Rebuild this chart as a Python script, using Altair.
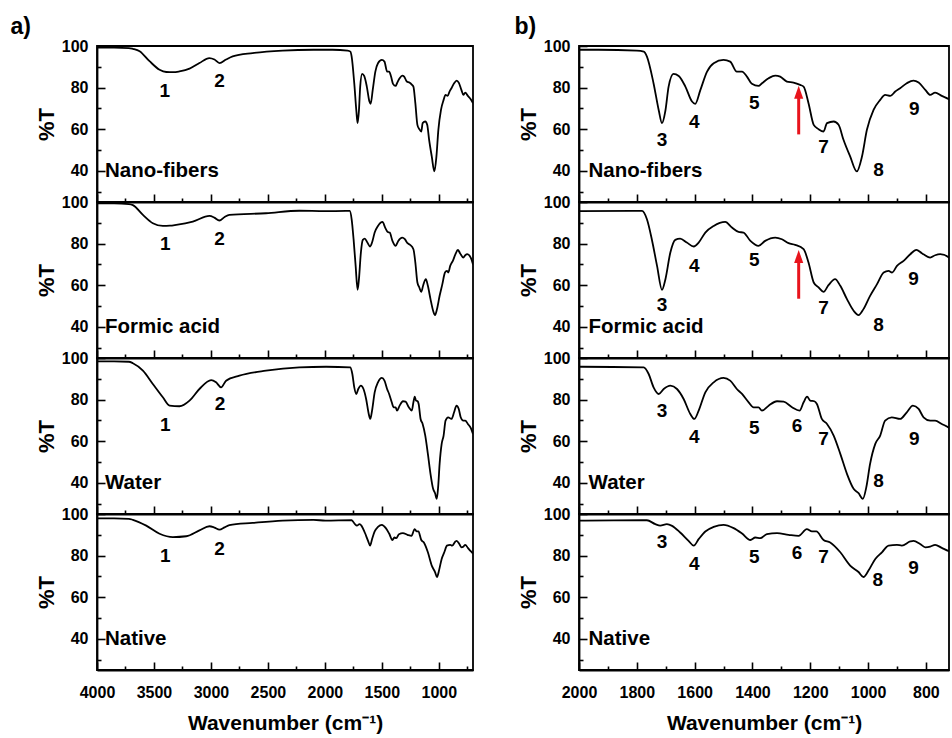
import altair as alt
import pandas as pd

FONT = "Liberation Sans"

# ---- FTIR spectra: wavenumber (cm-1) and transmittance (%T) ----
nano_wn = [4000, 3850, 3720, 3685, 3626, 3539, 3451, 3392, 3330, 3276, 3188, 3101, 3014, 2969, 2925,
           2867, 2809, 2634, 2371, 2100, 1933, 1800, 1776, 1765, 1742, 1724, 1713, 1701, 1690, 1673,
           1655, 1632, 1609, 1598, 1580, 1557, 1534, 1500, 1477, 1454, 1436, 1419, 1402, 1379, 1367,
           1344, 1321, 1304, 1281, 1258, 1235, 1223, 1206, 1188, 1171, 1154, 1142, 1119, 1102, 1085,
           1062, 1039, 1021, 1004, 981, 958, 941, 923, 906, 889, 866, 843, 825, 802, 785, 768, 745,
           720, 700]
nano_t = [99.2, 99.2, 99.0, 98.6, 97.5, 92.7, 88.6, 87.5, 87.4, 87.8, 89.1, 91.8, 94.2, 93.5, 91.8,
          93.5, 95.0, 96.6, 97.8, 98.2, 98.2, 97.8, 97.3, 94.9, 82.0, 69.0, 62.9, 69.0, 80.5, 86.6,
          85.6, 80.5, 73.3, 72.2, 78.9, 87.7, 91.7, 93.3, 92.5, 87.7, 87.7, 85.3, 81.8, 80.8, 82.1,
          84.5, 85.8, 85.3, 82.9, 82.4, 81.3, 80.5, 72.5, 62.1, 60.0, 58.9, 62.9, 63.7, 62.1, 54.9,
          46.9, 39.7, 46.9, 59.7, 69.3, 74.1, 76.5, 76.0, 78.1, 79.7, 82.1, 83.4, 82.4, 78.9, 76.5,
          77.6, 76.0, 74.4, 72.5]

formic_wn = [4000, 3850, 3720, 3685, 3597, 3510, 3422, 3360, 3305, 3159, 3013, 2970, 2926, 2880, 2838,
             2517, 2225, 2000, 1816, 1782, 1765, 1748, 1730, 1713, 1701, 1684, 1667, 1650, 1627, 1603,
             1586, 1563, 1534, 1494, 1471, 1448, 1431, 1407, 1379, 1356, 1321, 1298, 1275, 1252, 1223,
             1206, 1188, 1171, 1154, 1137, 1114, 1096, 1073, 1050, 1033, 1016, 993, 969, 946, 929, 917,
             900, 877, 854, 833, 814, 785, 768, 750, 720, 700]
formic_t = [99.3, 99.3, 99.0, 98.5, 93.8, 89.8, 88.5, 88.6, 89.0, 90.6, 93.3, 92.5, 91.1, 92.8, 93.8,
            94.6, 95.8, 95.6, 95.7, 95.7, 91.7, 82.0, 69.3, 57.8, 62.9, 75.7, 81.8, 82.4, 80.5, 78.6,
            80.5, 85.3, 88.5, 90.4, 87.7, 85.6, 85.3, 81.3, 78.9, 81.3, 82.9, 82.1, 80.2, 79.4, 77.3,
            70.9, 61.3, 58.9, 56.8, 60.0, 62.9, 59.7, 53.3, 47.7, 45.6, 48.5, 54.9, 60.5, 66.1, 66.9,
            66.1, 69.3, 71.7, 74.9, 77.0, 75.4, 73.3, 74.4, 74.9, 73.3, 70.0]

water_wn = [4000, 3850, 3720, 3685, 3597, 3510, 3422, 3363, 3276, 3188, 3101, 2998, 2955, 2911, 2867,
            2750, 2517, 2225, 1990, 1776, 1759, 1742, 1724, 1707, 1684, 1661, 1638, 1615, 1601, 1586,
            1563, 1534, 1500, 1477, 1454, 1436, 1413, 1396, 1379, 1367, 1344, 1315, 1292, 1263, 1237,
            1223, 1211, 1200, 1186, 1177, 1160, 1142, 1119, 1096, 1073, 1050, 1033, 1018, 1006, 993,
            975, 958, 941, 918, 889, 866, 845, 825, 808, 785, 768, 745, 720, 700]
water_t = [98.4, 98.4, 98.2, 97.5, 93.9, 87.5, 81.1, 77.1, 76.8, 79.5, 85.1, 89.4, 88.3, 85.9, 89.1,
           91.5, 93.9, 95.5, 95.8, 95.5, 92.3, 85.9, 82.7, 85.1, 86.7, 85.1, 80.3, 73.1, 70.7, 74.7,
           83.5, 88.3, 90.4, 89.1, 85.1, 82.7, 78.7, 76.3, 76.3, 74.7, 77.1, 79.2, 79.0, 76.3, 74.7,
           78.7, 81.4, 79.5, 79.2, 77.9, 70.7, 68.3, 62.7, 53.9, 44.3, 37.1, 35.0, 32.3, 37.9, 49.1,
           58.7, 62.7, 69.9, 71.5, 70.7, 73.9, 77.1, 75.5, 71.5, 69.9, 69.9, 68.3, 66.4, 63.5]

native_wn = [4000, 3850, 3720, 3685, 3568, 3451, 3334, 3217, 3101, 3013, 2970, 2925, 2880, 2838, 2634,
             2371, 2100, 1995, 1765, 1736, 1719, 1696, 1678, 1650, 1621, 1603, 1586, 1563, 1534, 1500,
             1465, 1436, 1407, 1390, 1373, 1350, 1315, 1275, 1240, 1212, 1194, 1179, 1154, 1131, 1096,
             1062, 1033, 1016, 998, 975, 952, 929, 900, 883, 854, 843, 820, 802, 785, 768, 745, 720, 700]
native_t = [97.9, 97.9, 97.7, 97.2, 94.4, 90.5, 88.9, 89.3, 92.1, 94.1, 93.5, 92.5, 93.6, 94.7, 95.7,
            96.8, 97.2, 96.8, 97.0, 95.1, 94.4, 95.1, 94.3, 91.1, 87.1, 84.8, 87.9, 91.6, 93.8, 94.8,
            93.2, 90.6, 87.5, 88.7, 88.4, 90.3, 90.8, 90.0, 89.5, 92.7, 91.6, 91.6, 87.5, 86.3, 81.6,
            75.2, 72.1, 69.7, 72.9, 78.4, 81.6, 84.8, 85.2, 84.8, 86.8, 87.1, 85.6, 84.0, 84.3, 85.2,
            83.7, 82.1, 81.0]

samples = ["Nano-fibers", "Formic acid", "Water", "Native"]
spectra = {
    "Nano-fibers": (nano_wn, nano_t),
    "Formic acid": (formic_wn, formic_t),
    "Water": (water_wn, water_t),
    "Native": (native_wn, native_t),
}

# ---- band numbers: label, wavenumber, %T of the label ----
bands_full = {
    "Nano-fibers": (["1", "2"], [3406, 2925], [78.3, 83.0]),
    "Formic acid": (["1", "2"], [3401, 2925], [80.0, 82.1]),
    "Water": (["1", "2"], [3401, 2920], [68.0, 77.9]),
    "Native": (["1", "2"], [3401, 2925], [79.9, 83.3]),
}
bands_zoom = {
    "Nano-fibers": (["3", "4", "5", "7", "8", "9"],
                    [1713, 1601, 1394, 1154, 964, 840], [54.9, 63.7, 72.5, 51.4, 40.5, 69.6]),
    "Formic acid": (["3", "4", "5", "7", "8", "9"],
                    [1713, 1601, 1394, 1154, 964, 843], [50.4, 69.3, 72.2, 48.8, 40.8, 62.9]),
    "Water": (["3", "4", "5", "6", "7", "8", "9"],
              [1713, 1601, 1394, 1246, 1154, 964, 840], [74.4, 61.9, 66.4, 67.5, 61.1, 41.1, 61.1]),
    "Native": (["3", "4", "5", "6", "7", "8", "9"],
               [1713, 1601, 1394, 1246, 1154, 966, 843], [86.3, 76.0, 79.2, 81.1, 79.2, 68.1, 74.1]),
}

# red arrows (wavenumber, tail %T, head %T) in the expanded view
arrows = {
    "Nano-fibers": (1240, 57.5, 77.8),
    "Formic acid": (1240, 53.5, 73.8),
}

Y_DOMAIN = [25, 100]
Y_TICKS = [30, 40, 50, 60, 70, 80, 90, 100]


def axis_common():
    return dict(
        labelFont=FONT, labelFontSize=16, labelFontWeight="bold", labelColor="black",
        labelFlush=False,
        titleFont=FONT, titleColor="black", titleFontWeight="bold",
        domainColor="black", domainWidth=1.8, tickColor="black", tickWidth=1.6,
        grid=False, format="d",
    )


def panel(name, x_domain, x_ticks, x_major, width, label_wn, bands, show_x, arrow=None):
    wn, t = spectra[name]
    df = pd.DataFrame({"wn": wn, "t": t})

    x_axis = alt.Axis(
        values=x_ticks,
        labels=show_x,
        labelExpr=f"datum.value % {x_major} === 0 ? datum.label : ''",
        tickSize=alt.condition(f"datum.value % {x_major} === 0", alt.value(-8), alt.value(-4)),
        labelPadding=22,
        title="Wavenumber (cm⁻¹)" if show_x else None,
        titleFontSize=21, titlePadding=12,
        **axis_common(),
    )
    y_axis = alt.Axis(
        values=Y_TICKS,
        labelExpr="datum.value % 20 === 0 ? datum.label : ''",
        tickSize=alt.condition("datum.value % 20 === 0", alt.value(-8), alt.value(-4)),
        labelPadding=17,
        title="%T", titleFontSize=22, titlePadding=3,
        **axis_common(),
    )
    x = alt.X("wn:Q", scale=alt.Scale(domain=x_domain, nice=False, zero=False), axis=x_axis)
    y = alt.Y("t:Q", scale=alt.Scale(domain=Y_DOMAIN, nice=False, zero=False), axis=y_axis)

    line = alt.Chart(df).mark_line(
        color="black", strokeWidth=1.8, clip=True, interpolate="monotone"
    ).encode(x=x, y=y)

    name_df = pd.DataFrame({"wn": [label_wn], "t": [40], "txt": [name]})
    name_text = alt.Chart(name_df).mark_text(
        font=FONT, fontSize=20.5, fontWeight="bold", align="left", baseline="middle", color="black"
    ).encode(x=x, y=y, text="txt:N")

    labels, bwn, bt = bands
    band_df = pd.DataFrame({"wn": bwn, "t": bt, "txt": labels})
    band_text = alt.Chart(band_df).mark_text(
        font=FONT, fontSize=19, fontWeight="bold", align="center", baseline="middle", color="black"
    ).encode(x=x, y=y, text="txt:N")

    layers = [line, name_text, band_text]
    if arrow is not None:
        aw, tail, head = arrow
        shaft_df = pd.DataFrame({"wn": [aw], "t": [tail], "t2": [head - 2.5]})
        shaft = alt.Chart(shaft_df).mark_rule(color="#e8141c", strokeWidth=3).encode(
            x=x, y=y, y2="t2:Q")
        head_df = pd.DataFrame({"wn": [aw], "t": [head]})
        tip = alt.Chart(head_df).mark_point(
            shape="M0,-1L0.7,1L-0.7,1Z", filled=True, color="#e8141c", opacity=1, size=170
        ).encode(x=x, y=y)
        layers += [shaft, tip]

    return alt.layer(*layers).properties(width=width, height=156)


full_ticks = list(range(4000, 700, -250))
zoom_ticks = list(range(2000, 700, -100))

left_col = alt.vconcat(
    *[panel(s, [4000, 700], full_ticks, 500, 376, 3930, bands_full[s], s == "Native")
      for s in samples],
    spacing=0, bounds="flush",
    title=alt.Title("a)", anchor="start", font=FONT, fontSize=23, fontWeight="bold",
                    color="black", dx=-24, offset=-2),
)
right_col = alt.vconcat(
    *[panel(s, [2000, 720], zoom_ticks, 200, 370, 1967, bands_zoom[s], s == "Native",
            arrows.get(s)) for s in samples],
    spacing=0, bounds="flush",
    title=alt.Title("b)", anchor="start", font=FONT, fontSize=23, fontWeight="bold",
                    color="black", dx=-2, offset=-2),
)

chart = alt.hconcat(left_col, right_col, spacing=40).properties(
    padding={"left": 10, "top": 16, "right": 0, "bottom": 4},
    background="white",
).configure_view(stroke="black", strokeWidth=1.8)

chart.save("out.html", embed_options={"renderer": "svg", "actions": False})
